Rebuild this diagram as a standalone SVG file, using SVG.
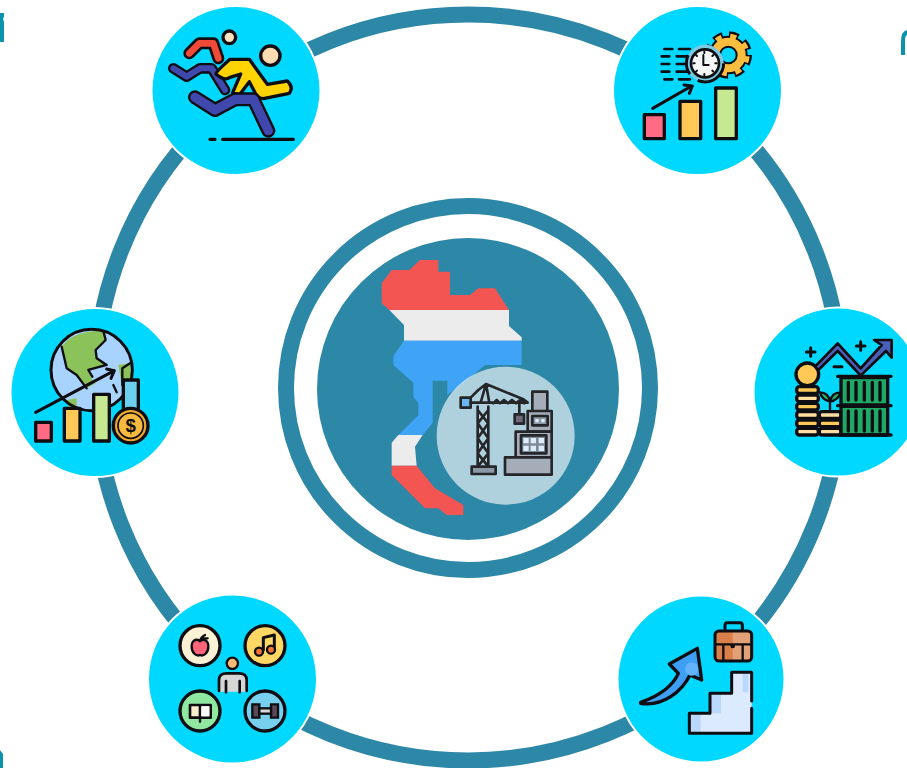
<svg xmlns="http://www.w3.org/2000/svg" width="907" height="768" viewBox="0 0 907 768">
<style>
.disc{fill:#00d8ff;stroke:#fff;stroke-width:2}
.k{stroke:#0d0d12;stroke-width:10;stroke-linejoin:round;stroke-linecap:round}
.l{fill:none;stroke:#0d0d12;stroke-width:9;stroke-linejoin:round;stroke-linecap:round}
.t{fill:none;stroke:#0d0d12;stroke-width:7;stroke-linejoin:round;stroke-linecap:round}
.o{fill:none;stroke:#0d0d12;stroke-width:44;stroke-linejoin:round;stroke-linecap:round}
.i{fill:none;stroke-width:28;stroke-linejoin:round;stroke-linecap:round}
.c{fill:#2d87a6}
.frag{fill:#0b93ab}
.cr{fill:none;stroke:#25262a;stroke-width:8;stroke-linejoin:round;stroke-linecap:round}
.crf{stroke:#25262a;stroke-width:8;stroke-linejoin:round}
</style>
<rect width="907" height="768" fill="#fff"/>
<g id="fragments">
<path class="frag" d="M0,13H4V16L3,20L4,21V42H0Z"/>
<path class="frag" d="M901,55V42Q901,31 907,30V35Q905,36 905,40V55Z"/>
<path class="frag" d="M0,750L3,754V768H0Z"/>
</g>
<g id="connectors">
<circle cx="468" cy="387.5" r="373" fill="none" stroke="#2d87a6" stroke-width="16"/>
</g>
<g id="node-center">
<circle cx="468" cy="388" r="182" fill="none" stroke="#2d87a6" stroke-width="16"/>
<circle class="c" cx="468" cy="389" r="151"/>
<g transform="translate(360,250) scale(.33333)">
<path fill="#f25552" d="M65,100L95,60H148L180,30H235V65H270V135H330L355,115H405L447,180H88L65,160Z"/>
<path fill="#ececec" d="M88,180H447V228L485,262V272H132V225Z"/>
<path fill="#3fa4f5" d="M132,272H485V345H375L340,375L262,435V392H218V518L188,555H115L175,495V460L160,440V398L100,345V318Z"/>
<path fill="#ececec" d="M115,555H188L165,590L170,647H95V578Z"/>
<path fill="#f25552" d="M95,647H170L225,715L310,765V795H260L235,775H195L95,675Z"/>
<circle cx="437" cy="557" r="207" fill="#fff" fill-opacity=".62"/>
<rect class="crf" x="335" y="650" width="72" height="22" fill="#8c98a8"/>
<path class="cr" d="M353,470V650M385,470V650M353,480L385,520L353,565L385,610L353,650M385,480L353,520L385,565L353,610L385,650"/>
<rect class="crf" x="302" y="443" width="30" height="30" fill="#6ab7f0"/>
<path class="cr" d="M332,458H503L490,448L378,402L355,420L332,443M378,402L362,458M378,402L388,458M400,460L410,450L420,460L432,450L444,460L456,450L468,460L480,450L492,460M478,462V492"/>
<rect class="crf" x="464" y="493" width="28" height="28" fill="#6f6a75"/>
<rect class="crf" x="517" y="425" width="45" height="60" fill="#a4adb8"/>
<rect class="crf" x="503" y="483" width="72" height="62" fill="#a4adb8"/>
<rect class="crf" x="517" y="498" width="46" height="28" fill="#8c98a8"/>
<path fill="#dcecf8" d="M526,507h10v10h-10zM544,507h10v10h-10z"/>
<rect class="crf" x="467" y="545" width="108" height="80" fill="#a4adb8"/>
<rect class="crf" x="483" y="556" width="76" height="54" fill="#7f8a98"/>
<path fill="#dcecf8" d="M490,564h16v16h-16zM512,564h16v16h-16zM536,564h16v16h-16zM490,587h16v16h-16zM512,587h16v16h-16zM536,587h16v16h-16z"/>
<rect class="crf" x="435" y="622" width="140" height="52" fill="#a4adb8"/>
</g>
</g>
<g id="node-runners">
<circle class="disc" cx="236" cy="90.5" r="84.5"/>
<g transform="translate(150,0) scale(.33333)">
<circle class="k" cx="238" cy="112" r="19" fill="#fbe3c0"/>
<path class="o" style="stroke-width:36" d="M118,160L148,130H190L205,175"/>
<path class="i" style="stroke-width:20" stroke="#ef4b38" d="M118,160L148,130H190L205,175"/>
<path class="o" style="stroke-width:32" d="M70,205L110,230L150,205H185L225,270"/>
<path class="i" style="stroke-width:18" stroke="#3f49ad" d="M70,205L110,230L150,205H185L225,270"/>
<circle class="k" cx="361" cy="167" r="29" fill="#fbdcb0"/>
<path class="k" fill="#ffd400" d="M198,222Q198,215 240,178H298L352,253L412,243Q432,262 418,280L340,296Q325,296 316,280L298,245L268,285L248,278L272,222L240,232Q225,245 198,222Z"/>
<path class="o" style="stroke-width:42" d="M135,292L195,330L255,298H310L355,392"/>
<path class="i" stroke="#3f49ad" d="M135,292L195,330L255,298H310L355,392"/>
<path class="l" d="M180,418H195M218,418H430" style="stroke-width:10"/>
</g>
</g>
<g id="node-productivity">
<circle class="disc" cx="697.5" cy="90.5" r="84.5"/>
<g transform="translate(610,0) scale(.33333)">
<circle cx="355" cy="165" r="58" fill="none" stroke="#0d0d12" stroke-width="26" stroke-dasharray="27 18.6"/>
<circle cx="355" cy="165" r="40" fill="none" stroke="#0d0d12" stroke-width="36"/>
<circle cx="355" cy="165" r="40" fill="none" stroke="#fbbd3d" stroke-width="24"/>
<circle cx="355" cy="165" r="56" fill="none" stroke="#fbbd3d" stroke-width="16" stroke-dasharray="18 26" stroke-dashoffset="-4"/>
<path class="t" style="stroke-width:8" d="M163,147H187M207,147H240M155,169H178M200,169H232M155,192H178M200,192H232M155,215H178M200,215H232M163,238H187M207,238H240"/>
<circle cx="285" cy="190" r="56" fill="#7cc9e3" stroke="#0d0d12" stroke-width="9" stroke-dasharray="110 30 60 152"/>
<circle cx="285" cy="190" r="42" fill="#f4f6f7" stroke="#0d0d12" stroke-width="8"/>
<path class="t" style="stroke-width:6" d="M280,165V195H296M283,155v4M283,222v4M250,190h4M316,190h4M258,165l3,3M310,165l-3,3M258,215l3,-3M310,215l-3,-3"/>
<rect class="k" x="103" y="344" width="60" height="72" fill="#ff6b85"/>
<rect class="k" x="210" y="304" width="62" height="112" fill="#ffc857"/>
<rect class="k" x="317" y="264" width="62" height="152" fill="#c5e890"/>
<path class="l" d="M128,325L245,258M222,255L247,258L238,280"/>
</g>
</g>
<g id="node-trade">
<circle class="disc" cx="838" cy="392" r="84.5"/>
<g transform="translate(750,305) scale(.33333)">
<rect class="k" x="140" y="245" width="65" height="20" rx="8" fill="#ffc857"/>
<rect class="k" x="140" y="270" width="65" height="20" rx="8" fill="#ffdca0"/>
<rect class="k" x="140" y="295" width="65" height="20" rx="8" fill="#ffc857"/>
<rect class="k" x="140" y="320" width="65" height="20" rx="8" fill="#ffdca0"/>
<rect class="k" x="140" y="345" width="65" height="20" rx="8" fill="#ffc857"/>
<rect class="k" x="140" y="370" width="65" height="20" rx="8" fill="#ffdca0"/>
<rect class="k" x="208" y="320" width="65" height="20" rx="8" fill="#ffdca0"/>
<rect class="k" x="208" y="345" width="65" height="20" rx="8" fill="#ffc857"/>
<rect class="k" x="208" y="370" width="65" height="20" rx="8" fill="#ffdca0"/>
<circle class="k" cx="172" cy="208" r="34" fill="#ffc857"/>
<path fill="#2ea86a" d="M240,288Q218,283 214,266Q235,266 240,288ZM240,288Q262,283 268,266Q245,266 240,288Z"/>
<path class="t" d="M240,318V285M240,290Q215,285 210,262Q235,262 240,290M240,290Q265,285 272,262Q245,262 240,290"/>
<rect class="k" x="273" y="218" width="140" height="82" fill="#1fa866"/>
<rect class="k" x="273" y="304" width="140" height="86" fill="#1fa866"/>
<path class="l" style="stroke-width:10" d="M263,214H423M263,302H423M268,390H423M295,232V285M318,232V285M343,232V285M367,232V285M390,232V285M295,318V378M318,318V378M343,318V378M367,318V378M390,318V378"/>
<path d="M195,185L263,115L332,190L395,120L372,105H425V158L408,138L332,212L263,138L205,195Z" fill="#4a5fb5" stroke="#0d0d12" stroke-width="8" stroke-linejoin="round"/>
<path class="l" d="M182,128V154M169,141H195M332,110V136M319,123H345M252,185H276"/>
</g>
</g>
<g id="node-career">
<circle class="disc" cx="701" cy="679" r="83.5"/>
<g transform="translate(610,595) scale(.33333)">
<path class="l" d="M345,105V90Q345,83 352,83H390Q397,83 397,90V105"/>
<rect x="315" y="108" width="110" height="90" rx="12" fill="#d9804a"/>
<path fill="#e2a077" d="M368,108H413Q425,108 425,120V186Q425,198 413,198H368Z"/>
<rect class="l" x="315" y="108" width="110" height="90" rx="12"/>
<path class="t" d="M315,148H425M340,152V195M398,152V195"/>
<circle cx="368" cy="153" r="7" fill="#0d0d12"/>
<path fill="#dbeaff" d="M238,415V355H300V295H365V232H425V415Z"/>
<path fill="#b9d8fb" d="M238,415V355H272V415ZM300,355V295H333V355ZM398,292V232H415V292Z"/>
<path class="l" d="M425,318V232H365V295H300V355H238V415H425V340"/>
<path d="M92,322C140,305 185,280 205,235L178,207L262,160L275,255L240,240C215,290 160,335 92,325Z" fill="#3da0f5" stroke="#0d0d12" stroke-width="10" stroke-linejoin="round"/>
<circle cx="245" cy="222" r="20" fill="#62b4fa"/>
</g>
</g>
<g id="node-lifestyle">
<circle class="disc" cx="232.5" cy="679" r="84.5"/>
<g transform="translate(145,595) scale(.33333)">
<circle class="k" cx="165" cy="152" r="60" fill="#fbf1d5"/>
<circle class="k" cx="360" cy="152" r="60" fill="#ffd765"/>
<circle class="k" cx="165" cy="348" r="60" fill="#90e8a0"/>
<circle class="k" cx="360" cy="348" r="60" fill="#76d0ee"/>
<path d="M165,138C150,128 140,140 140,155C140,175 155,185 165,180C175,185 190,175 190,155C190,140 180,128 165,138Z" fill="#ff6478" stroke="#0d0d12" stroke-width="7"/>
<path class="t" d="M165,138Q168,125 180,120M170,130H188"/>
<path class="l" d="M355,165V128L388,120V160"/>
<circle cx="342" cy="170" r="12" fill="#f0743a" stroke="#0d0d12" stroke-width="7"/>
<circle cx="378" cy="164" r="12" fill="#f0743a" stroke="#0d0d12" stroke-width="7"/>
<path d="M135,330H165V368H135ZM165,330H197V368H165Z" fill="#fbeecb" stroke="#0d0d12" stroke-width="8" stroke-linejoin="round"/>
<path fill="#fff" d="M169,334H193V364H169Z"/>
<path class="t" d="M165,368V380"/>
<path fill="#5b4a55" stroke="#0d0d12" stroke-width="7" d="M322,328H343V368H322ZM378,328H399V368H378Z"/>
<rect x="343" y="340" width="35" height="16" fill="#d9d9de" stroke="#0d0d12" stroke-width="7"/>
<circle cx="262" cy="205" r="17" fill="#fcb977" stroke="#0d0d12" stroke-width="7"/>
<path fill="#d6d6d6" d="M222,290V255Q222,235 245,235H282Q305,235 305,255V290Z"/>
<path class="l" d="M222,288V255Q222,235 245,235H282Q305,235 305,255V288M243,258V292M284,258V292" style="stroke-width:8"/>
</g>
</g>
<g id="node-global">
<circle class="disc" cx="95" cy="392.5" r="84.5"/>
<g transform="translate(5,305) scale(.33333)">
<circle cx="260" cy="195" r="122" fill="#a9d3ff"/>
<path fill="#8bc25a" d="M170,125Q205,75 295,78L302,105L272,135L275,160L305,180L250,195L262,225L272,235L245,250L215,210L185,190Z"/>
<path fill="#8bc25a" d="M340,180L375,175L380,225L350,240ZM185,285L215,280L215,315L190,305Z"/>
<path class="t" d="M170,125L185,190L215,210L245,250M295,78L302,105L272,135L275,160L305,180L250,195L262,215M352,240V190L375,175M325,240L335,262"/>
<circle class="l" cx="260" cy="195" r="122"/>
<rect class="k" x="92" y="352" width="47" height="56" fill="#ff6b85"/>
<rect class="k" x="178" y="310" width="47" height="98" fill="#ffc857"/>
<rect class="k" x="266" y="268" width="47" height="140" fill="#c5e890"/>
<rect class="k" x="355" y="225" width="45" height="110" fill="#6dcff0"/>
<circle class="k" cx="377" cy="362" r="52" fill="#f2a92f"/>
<circle cx="377" cy="362" r="38" fill="#f7b93e" stroke="#0d0d12" stroke-width="5"/>
<text x="377" y="382" font-family="'Liberation Sans',sans-serif" font-size="56" font-weight="700" text-anchor="middle" fill="#0d0d12">$</text>
<path class="l" d="M92,322L328,197M305,192L328,197L318,220"/>
</g>
</g>
</svg>
